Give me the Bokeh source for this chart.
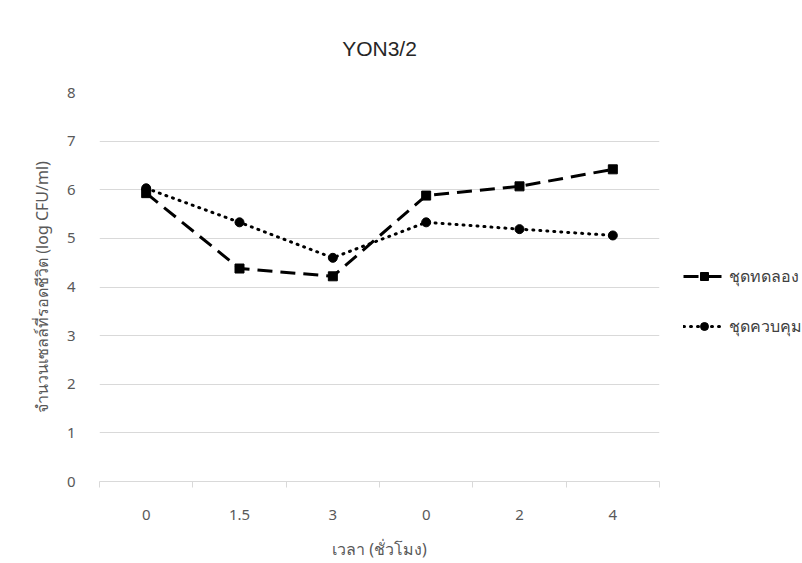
from bokeh.plotting import figure
from bokeh.models import (Range1d, FixedTicker, Legend, LegendItem)
from bokeh.embed import file_html
from bokeh.resources import INLINE

# ---- data ----
time_labels = ["0", "1.5", "3", "0", "2", "4"]
experiment = [5.93, 4.38, 4.22, 5.88, 6.07, 6.42]   # ชุดทดลอง
control = [6.03, 5.33, 4.60, 5.33, 5.19, 5.06]      # ชุดควบคุม
y_ticks = [0, 1, 2, 3, 4, 5, 6, 7, 8]

title_text = "YON3/2"
x_title = "เวลา (ชั่วโมง)"
y_title = "จำนวนเซลล์ที่รอดชีวิต (log CFU/ml)"
series_names = ["ชุดทดลอง", "ชุดควบคุม"]

FONT = "Noto Sans"
GRAY = "#595959"

xs = list(range(len(time_labels)))

p = figure(frame_width=560, frame_height=389, output_backend="svg", toolbar_location=None,
           x_range=Range1d(-0.5, len(time_labels) - 0.5), y_range=Range1d(0, 8),
           min_border_left=99, min_border_right=10, min_border_top=92,
           min_border_bottom=82, outline_line_color=None,
           background_fill_color="white", border_fill_color="white")

p.title.text = title_text
p.title.align = "center"
p.title.offset = 33
p.title.text_font = "Liberation Sans"
p.title.text_font_size = "21px"
p.title.text_font_style = "normal"
p.title.text_color = "#262626"
p.title.standoff = 65

# grid
p.xgrid.grid_line_color = None
p.ygrid.grid_line_color = "#d9d9d9"
p.ygrid.grid_line_width = 1
p.ygrid.ticker = FixedTicker(ticks=y_ticks)

# x axis
xa = p.xaxis[0]
xa.ticker = FixedTicker(ticks=xs, minor_ticks=[i - 0.5 for i in range(len(time_labels) + 1)])
xa.major_label_overrides = {i: lab for i, lab in enumerate(time_labels)}
xa.major_tick_line_color = None
xa.minor_tick_line_color = "#d9d9d9"
xa.minor_tick_out = 6
xa.minor_tick_in = 0
xa.axis_line_color = "#d9d9d9"
xa.major_label_text_font = FONT
xa.major_label_text_font_size = "15px"
xa.major_label_text_color = GRAY
xa.major_label_standoff = 22
xa.axis_label = x_title
xa.axis_label_text_font = FONT
xa.axis_label_text_font_size = "16px"
xa.axis_label_text_font_style = "normal"
xa.axis_label_text_color = GRAY
xa.axis_label_standoff = 15

# y axis
ya = p.yaxis[0]
ya.ticker = FixedTicker(ticks=y_ticks)
ya.axis_line_color = None
ya.major_tick_line_color = None
ya.minor_tick_line_color = None
ya.major_label_text_font = FONT
ya.major_label_text_font_size = "15px"
ya.major_label_text_color = GRAY
ya.major_label_standoff = 18
ya.axis_label = y_title
ya.axis_label_text_font = FONT
ya.axis_label_text_font_size = "16px"
ya.axis_label_text_font_style = "normal"
ya.axis_label_text_color = GRAY
ya.axis_label_standoff = 11

# series
l1 = p.line(xs, experiment, line_color="black", line_width=3, line_dash="15 8")
s1 = p.scatter(xs, experiment, marker="square", size=9, fill_color="black", line_color="black")
l2 = p.line(xs, control, line_color="black", line_width=3, line_dash="1 6", line_cap="round")
s2 = p.scatter(xs, control, marker="circle", size=9, fill_color="black", line_color="black")

legend = Legend(items=[LegendItem(label=series_names[0], renderers=[l1, s1]),
                       LegendItem(label=series_names[1], renderers=[l2, s2])],
                location="center_left", orientation="vertical",
                title=" ", title_text_font_size="20px", title_standoff=6,
                label_text_font=FONT, label_text_font_size="16px",
                label_text_color="#404040", glyph_width=42, glyph_height=20,
                spacing=25, padding=0, margin=24, label_standoff=4,
                border_line_color=None, background_fill_alpha=0)
p.add_layout(legend, "right")

open("out.html", "w").write(file_html(p, INLINE))
